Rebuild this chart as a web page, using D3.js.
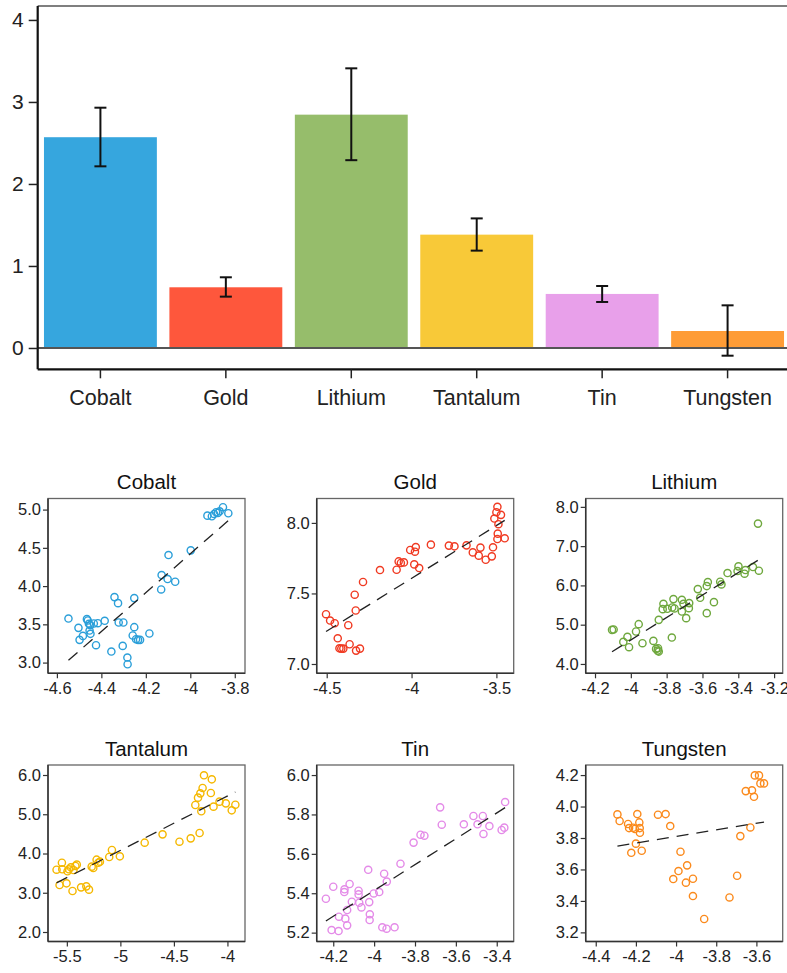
<!DOCTYPE html>
<html>
<head>
<meta charset="utf-8">
<script src="https://cdn.jsdelivr.net/npm/d3@7"></script>
<style>
  body { margin: 0; background: #fff; }
  svg { display: block; font-family: "Liberation Sans", Arial, sans-serif; }
</style>
</head>
<body>
<svg id="chart" width="787" height="973"></svg>
<script>
// bar chart data
const minerals = ["Cobalt", "Gold", "Lithium", "Tantalum", "Tin", "Tungsten"];
const barMeans = [2.57, 0.74, 2.845, 1.382, 0.659, 0.207];
const barLower = [2.215, 0.626, 2.29, 1.187, 0.561, -0.094];
const barUpper = [2.93, 0.862, 3.41, 1.58, 0.756, 0.52];
const barColors = ["#36a6de", "#fe573c", "#96bd6b", "#f8c938", "#e8a0ea", "#fe9c36"];
const dotColors = ["#2b9fd9", "#f03a22", "#6fa83e", "#f5b800", "#e48be8", "#fb8a1c"];

// scatter data, one x / y pair per mineral
const cobaltX = [-4.548,-4.503,-4.498,-4.483,-4.465,-4.461,-4.456,-4.45,-4.453,-4.449,-4.434,-4.424,-4.416,-4.385,-4.355,-4.341,-4.325,-4.322,-4.301,-4.304,-4.283,-4.282,-4.252,-4.252,-4.259,-4.244,-4.226,-4.235,-4.184,-4.129,-4.102,-4.098,-4.068,-4.131,-3.998,-3.923,-3.903,-3.893,-3.884,-3.876,-3.868,-3.853,-3.829];
const cobaltY = [3.576,3.454,3.297,3.349,3.568,3.55,3.507,3.49,3.419,3.376,3.511,3.227,3.515,3.546,3.144,3.856,3.777,3.524,3.524,3.218,3.066,2.978,3.843,3.463,3.354,3.306,3.297,3.297,3.38,4.144,4.092,4.406,4.057,3.956,4.467,4.921,4.913,4.943,4.965,4.956,4.978,5.031,4.952];

const goldX = [-4.504,-4.48,-4.453,-4.435,-4.425,-4.414,-4.402,-4.373,-4.365,-4.335,-4.329,-4.327,-4.304,-4.286,-4.186,-4.088,-4.076,-4.063,-4.045,-4.008,-3.98,-3.975,-3.984,-3.955,-3.886,-3.78,-3.747,-3.676,-3.639,-3.604,-3.594,-3.563,-3.527,-3.52,-3.512,-3.5,-3.494,-3.488,-3.492,-3.494,-3.473,-3.451];
const goldY = [7.353,7.308,7.289,7.182,7.111,7.109,7.109,7.275,7.14,7.491,7.379,7.095,7.109,7.581,7.666,7.668,7.727,7.716,7.72,7.808,7.796,7.829,7.706,7.68,7.846,7.839,7.834,7.841,7.791,7.768,7.825,7.739,7.763,7.827,8.031,8.076,8.114,7.991,7.924,7.886,8.057,7.891];

const lithiumX = [-4.105,-4.096,-4.042,-4.019,-4.01,-3.971,-3.956,-3.935,-3.874,-3.859,-3.85,-3.844,-3.848,-3.844,-3.818,-3.822,-3.796,-3.771,-3.769,-3.762,-3.756,-3.715,-3.715,-3.706,-3.691,-3.676,-3.674,-3.626,-3.613,-3.576,-3.57,-3.576,-3.536,-3.501,-3.494,-3.46,-3.404,-3.399,-3.365,-3.36,-3.318,-3.285,-3.29];
const lithiumY = [4.868,4.877,4.562,4.689,4.426,4.826,5.013,4.528,4.587,4.383,4.34,4.315,4.4,5.123,5.532,5.396,5.404,4.672,5.438,5.651,5.413,5.634,5.336,5.532,5.166,5.421,5.549,5.906,5.685,5.983,6.085,5.294,5.574,6.094,6.026,6.315,6.366,6.485,6.298,6.391,6.468,6.374,7.574];

const tantalumX = [-5.596,-5.568,-5.546,-5.543,-5.503,-5.494,-5.481,-5.463,-5.447,-5.438,-5.42,-5.407,-5.367,-5.318,-5.293,-5.268,-5.253,-5.222,-5.206,-5.191,-5.104,-5.079,-5.005,-4.773,-4.606,-4.448,-4.343,-4.26,-4.3,-4.275,-4.253,-4.232,-4.219,-4.244,-4.155,-4.146,-4.13,-4.074,-4.015,-3.96,-3.926];
const tantalumY = [3.588,3.197,3.766,3.597,3.24,3.546,3.597,3.648,3.045,3.58,3.682,3.716,3.138,3.163,3.079,3.665,3.631,3.843,3.766,3.792,3.911,4.089,3.928,4.276,4.488,4.301,4.386,4.522,5.236,5.423,5.533,5.669,5.992,5.075,5.541,5.89,5.194,5.321,5.278,5.1,5.244];

const tinX = [-4.236,-4.208,-4.2,-4.174,-4.172,-4.145,-4.146,-4.141,-4.132,-4.132,-4.12,-4.109,-4.076,-4.076,-4.073,-4.062,-4.029,-4.024,-4.021,-4.022,-4.002,-3.975,-3.951,-3.938,-3.96,-3.939,-3.9,-3.871,-3.807,-3.773,-3.754,-3.677,-3.669,-3.561,-3.514,-3.494,-3.468,-3.465,-3.436,-3.376,-3.363,-3.359];
const tinY = [5.372,5.213,5.433,5.208,5.281,5.42,5.406,5.271,5.237,5.315,5.447,5.357,5.413,5.394,5.352,5.328,5.519,5.355,5.293,5.264,5.399,5.406,5.499,5.459,5.227,5.22,5.227,5.55,5.657,5.697,5.692,5.836,5.748,5.75,5.792,5.75,5.792,5.701,5.741,5.721,5.733,5.863];

const tungstenX = [-4.292,-4.281,-4.239,-4.234,-4.223,-4.214,-4.205,-4.2,-4.193,-4.183,-4.181,-4.18,-4.171,-4.09,-4.052,-4.029,-4.014,-3.988,-3.978,-3.951,-3.945,-3.916,-3.916,-3.86,-3.734,-3.696,-3.68,-3.653,-3.63,-3.622,-3.612,-3.608,-3.587,-3.58,-3.562];
const tungstenY = [3.95,3.908,3.889,3.863,3.706,3.865,3.857,3.764,3.952,3.899,3.863,3.833,3.719,3.948,3.952,3.876,3.539,3.59,3.713,3.516,3.626,3.541,3.431,3.285,3.422,3.56,3.812,4.098,3.867,4.103,4.062,4.198,4.198,4.147,4.147];

// fitted lines: [intercept, slope]
const fitCoefs = [[14.582, 2.540], [10.599, 0.748], [16.044, 2.858], [11.009, 1.386], [8.038, 0.656], [4.646, 0.209]];

const xTicks = [
  [-4.6, -4.4, -4.2, -4, -3.8],
  [-4.5, -4, -3.5],
  [-4.2, -4, -3.8, -3.6, -3.4, -3.2],
  [-5.5, -5, -4.5, -4],
  [-4.2, -4, -3.8, -3.6, -3.4],
  [-4.4, -4.2, -4, -3.8, -3.6]
];
const yTicks = [
  [3, 3.5, 4, 4.5, 5],
  [7, 7.5, 8],
  [4, 5, 6, 7, 8],
  [2, 3, 4, 5, 6],
  [5.2, 5.4, 5.6, 5.8, 6],
  [3.2, 3.4, 3.6, 3.8, 4, 4.2]
];

const svg = d3.select("#chart");

// ---------- bar chart ----------
const barX = d3.scaleBand().domain(minerals).range([37.7, 790.3]).paddingInner(0.1).paddingOuter(0.05);
const barY = d3.scaleLinear().domain([-0.26, 4.17]).range([369.3, 6]);
const barG = svg.append("g");

barG.selectAll("rect.bar")
  .data(minerals)
  .enter()
  .append("rect")
    .attr("class", "bar")
    .attr("x", d => barX(d))
    .attr("width", barX.bandwidth())
    .attr("y", (d, i) => barY(barMeans[i]))
    .attr("height", (d, i) => barY(0) - barY(barMeans[i]))
    .style("fill", (d, i) => barColors[i]);

// zero line
barG.append("line")
  .attr("x1", 37.7).attr("x2", 787)
  .attr("y1", barY(0)).attr("y2", barY(0))
  .style("stroke", "#555").style("stroke-width", 2);

// error bars
const errG = barG.selectAll("g.err").data(minerals).enter().append("g")
  .attr("transform", d => `translate(${barX(d) + barX.bandwidth() / 2},0)`)
  .style("stroke", "#111").style("stroke-width", 2);
errG.append("line").attr("y1", (d, i) => barY(barLower[i])).attr("y2", (d, i) => barY(barUpper[i]));
errG.append("line").attr("x1", -6).attr("x2", 6).attr("y1", (d, i) => barY(barLower[i])).attr("y2", (d, i) => barY(barLower[i]));
errG.append("line").attr("x1", -6).attr("x2", 6).attr("y1", (d, i) => barY(barUpper[i])).attr("y2", (d, i) => barY(barUpper[i]));

// frame: top line gray
barG.append("line").attr("x1", 37.7).attr("x2", 787).attr("y1", 6).attr("y2", 6)
  .style("stroke", "#555").style("stroke-width", 1.5);

const barYAxis = barG.append("g").attr("transform", "translate(37.7,0)")
  .call(d3.axisLeft(barY).tickValues([0, 1, 2, 3, 4]).tickSize(9).tickPadding(5).tickFormat(d3.format("d")));
const barXAxis = barG.append("g").attr("transform", "translate(0,369.3)")
  .call(d3.axisBottom(barX).tickSize(9).tickPadding(11));
[barYAxis, barXAxis].forEach(ax => {
  ax.select(".domain").style("stroke", "#111").style("stroke-width", 2.2);
  ax.selectAll(".tick line").style("stroke", "#222").style("stroke-width", 1.5);
  ax.selectAll(".tick text").style("fill", "#222").style("font-family", "Liberation Sans, Arial, sans-serif");
});
barYAxis.select(".domain").attr("d", "M0,6V369.3");
barXAxis.select(".domain").attr("d", "M37.7,0H787");
barYAxis.selectAll(".tick text").style("font-size", "21px");
barXAxis.selectAll(".tick text").style("font-size", "21.5px");

// ---------- scatter panels ----------
const scatterX = [cobaltX, goldX, lithiumX, tantalumX, tinX, tungstenX];
const scatterY = [cobaltY, goldY, lithiumY, tantalumY, tinY, tungstenY];
const xDomains = [[-4.64, -3.754], [-4.559, -3.398], [-4.252, -3.152], [-5.676, -3.836], [-4.281, -3.317], [-4.45, -3.469]];
const yDomains = [[2.86, 5.145], [6.934, 8.173], [3.762, 8.213], [1.758, 6.255], [5.155, 6.051], [3.142, 4.264]];
const colLeft = [48, 316.7, 585.7];
const rowTop = [498.5, 765];
const rowBottom = [673.3, 941.5];
const panelW = 197;

minerals.forEach((name, i) => {
  const col = i % 3, row = Math.floor(i / 3);
  const x0 = colLeft[col], y0 = rowTop[row], y1 = rowBottom[row];
  const x = d3.scaleLinear().domain(xDomains[i]).range([x0, x0 + panelW]);
  const y = d3.scaleLinear().domain(yDomains[i]).range([y1, y0]);
  const g = svg.append("g");

  g.append("rect")
    .attr("x", x0).attr("y", y0).attr("width", panelW).attr("height", y1 - y0)
    .style("fill", "none").style("stroke", "#666").style("stroke-width", 1.3);

  g.append("text")
    .attr("x", x0 + panelW / 2).attr("y", row === 0 ? 489.3 : 756)
    .attr("text-anchor", "middle")
    .style("font-size", "20.5px").style("fill", "#111")
    .text(name);

  const xs = scatterX[i], ys = scatterY[i];
  g.selectAll("circle")
    .data(xs)
    .enter()
    .append("circle")
      .attr("cx", d => x(d))
      .attr("cy", (d, j) => y(ys[j]))
      .attr("r", 3.6)
      .style("fill", "none")
      .style("stroke", dotColors[i])
      .style("stroke-width", 1.4);

  const [a, b] = fitCoefs[i];
  const ext = d3.extent(xs);
  g.append("path")
    .attr("d", d3.line().x(d => x(d)).y(d => y(a + b * d))(ext))
    .style("stroke", "#222").style("stroke-width", 1.3)
    .style("stroke-dasharray", "12,8").style("fill", "none");

  const xa = g.append("g").attr("transform", `translate(0,${y1})`)
    .call(d3.axisBottom(x).tickValues(xTicks[i]).tickSize(5).tickPadding(4).tickFormat(d => String(d)));
  const ya = g.append("g").attr("transform", `translate(${x0},0)`)
    .call(d3.axisLeft(y).tickValues(yTicks[i]).tickSize(5).tickPadding(2).tickFormat(d3.format(".1f")));
  [xa, ya].forEach(ax => {
    ax.select(".domain").style("stroke", "#333").style("stroke-width", 1.5);
    ax.selectAll(".tick line").style("stroke", "#333").style("stroke-width", 1.2);
    ax.selectAll(".tick text").style("fill", "#222").style("font-size", "16.5px")
      .style("font-family", "Liberation Sans, Arial, sans-serif");
  });
  xa.select(".domain").attr("d", `M${x0},0H${x0 + panelW}`);
  ya.select(".domain").attr("d", `M0,${y0}V${y1}`);
});
</script>
</body>
</html>
